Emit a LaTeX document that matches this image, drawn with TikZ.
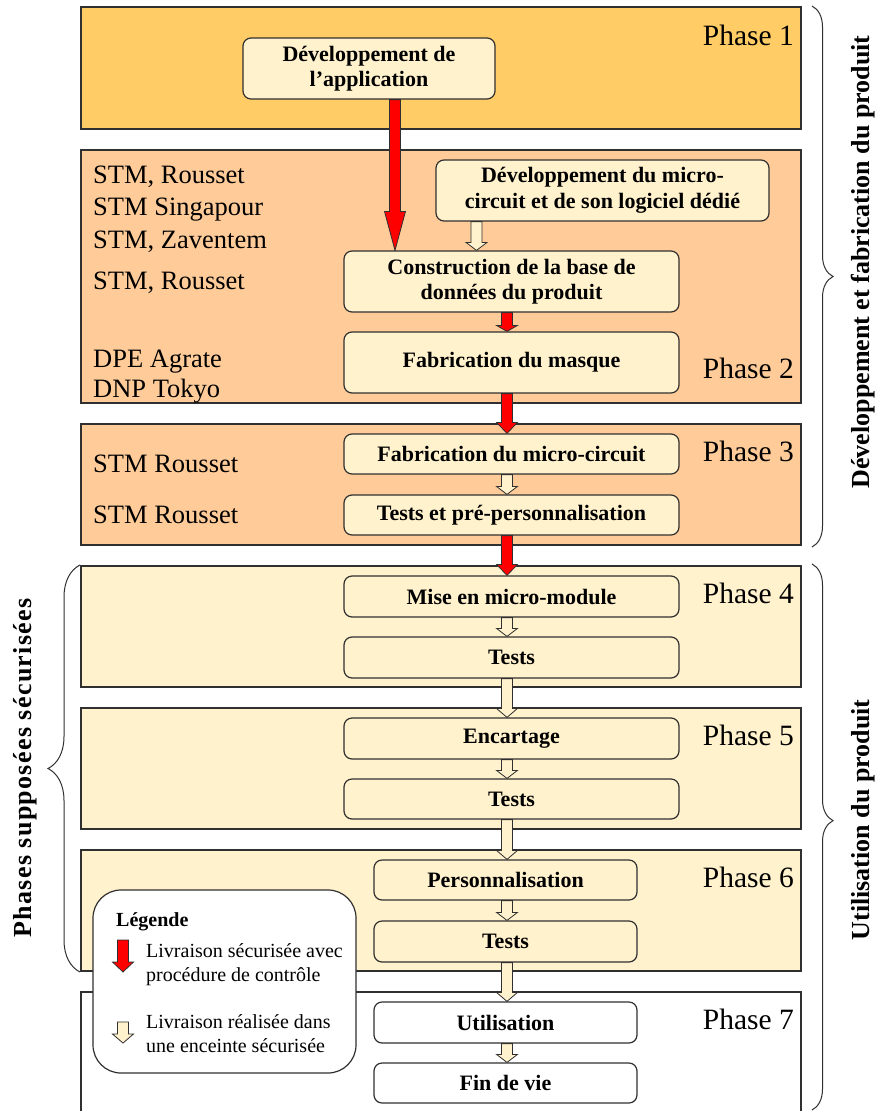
\documentclass[tikz,border=0pt]{standalone}
\usepackage{fontspec}
\setmainfont{Liberation Serif}
\usetikzlibrary{calc,decorations.pathreplacing}
\definecolor{phaseA}{HTML}{FFCC66}
\definecolor{phaseB}{HTML}{FFCC99}
\definecolor{phaseC}{HTML}{FFF2CC}
\definecolor{boxfill}{HTML}{FFF2CC}
\definecolor{edge}{HTML}{303030}
\newcommand\fsz[2]{\fontsize{#1}{#2}\selectfont}
\newcommand\blockarrow[4]{%
  \draw[#1] let \p1=(#2), \p2=(#3) in
    (\x1-5.5pt,\y1) -- (\x1-5.5pt,\y2+#4) -- (\x1-10.5pt,\y2+#4) -- (\x1,\y2)
    -- (\x1+10.5pt,\y2+#4) -- (\x1+5.5pt,\y2+#4) -- (\x1+5.5pt,\y1) -- cycle;}
\begin{document}
\begin{tikzpicture}[x=1pt,y=-1pt,
  phase/.style={draw=edge,line width=1.3pt},
  stepbox/.style={draw=edge,line width=1.2pt,rounded corners=8pt,fill=boxfill,align=center,inner sep=0pt,font=\bfseries\fsz{22}{25.5},text=black},
  site/.style={anchor=base west,inner sep=0pt,font=\fsz{26.5}{30}},
  phlabel/.style={anchor=base east,inner sep=0pt,font=\fsz{29.5}{32}},
  redarrow/.style={fill=red,draw=edge,line width=0.8pt},
  paleArrow/.style={fill=boxfill,draw=edge,line width=0.8pt},
  legtext/.style={anchor=base west,inner sep=0pt,font=\fsz{20}{24}},
  sidetext/.style={rotate=90,font=\bfseries\fsz{26}{30},inner sep=0pt},
  bracedraw/.style={draw=edge,line width=1pt,decorate}
]
\useasboundingbox (0,0) rectangle (878,1111);
\fill[white] (0,0) rectangle (878,1111);

% phases
\draw[phase,fill=phaseA] (81,7) rectangle (801,129);
\draw[phase,fill=phaseB] (81,150) rectangle (801,403);
\draw[phase,fill=phaseB] (81,424) rectangle (801,545);
\draw[phase,fill=phaseC] (81,566) rectangle (801,687);
\draw[phase,fill=phaseC] (81,708) rectangle (801,829);
\draw[phase,fill=phaseC] (81,850) rectangle (801,971);
\fill[white] (81,992) rectangle (801,1115);
\draw[phase] (81,1115) -- (81,992) -- (801,992) -- (801,1115);

% phase labels
\node[phlabel] (ph1) at (794,45) {Phase 1};
\node[phlabel] (ph2) at (794,378) {Phase 2};
\node[phlabel] (ph3) at (794,461) {Phase 3};
\node[phlabel] (ph4) at (794,603) {Phase 4};
\node[phlabel] (ph5) at (794,745) {Phase 5};
\node[phlabel] (ph6) at (794,887) {Phase 6};
\node[phlabel] (ph7) at (794,1029) {Phase 7};

% site labels
\node[site] (s1) at (93,183) {STM, Rousset};
\node[site] (s2) at (93,215) {STM Singapour};
\node[site] (s3) at (93,248) {STM, Zaventem};
\node[site] (s4) at (93,289) {STM, Rousset};
\node[site] (s5) at (93,367) {DPE Agrate};
\node[site] (s6) at (93,397) {DNP Tokyo};
\node[site] (s7) at (93,472) {STM Rousset};
\node[site] (s8) at (93,523) {STM Rousset};

% steps
\node[stepbox,minimum width=252pt,minimum height=61pt] (devapp) at (369,68.5) {Développement de\\l’application};
\node[stepbox,minimum width=333pt,minimum height=61pt] (devmc) at (602.5,190.5) {Développement du micro-\\circuit et de son logiciel dédié};
\node[stepbox,minimum width=335pt,minimum height=61pt] (constr) at (511.5,281.5) {Construction de la base de\\données du produit};
\node[stepbox,minimum width=335pt,minimum height=61pt] (masque) at (511.5,362.5) {Fabrication du masque};
\node[stepbox,minimum width=335pt,minimum height=40pt] (fabmc) at (511.5,454) {Fabrication du micro-circuit};
\node[stepbox,minimum width=335pt,minimum height=40pt] (testspre) at (511.5,515) {Tests et pré-personnalisation};
\node[stepbox,minimum width=335pt,minimum height=41pt] (mise) at (511.5,596.5) {Mise en micro-module};
\node[stepbox,minimum width=335pt,minimum height=41pt] (tests4) at (511.5,657.5) {Tests};
\node[stepbox,minimum width=335pt,minimum height=41pt] (encart) at (511.5,738.5) {Encartage};
\node[stepbox,minimum width=335pt,minimum height=40pt] (tests5) at (511.5,799) {Tests};
\node[stepbox,minimum width=263pt,minimum height=40pt] (perso) at (505.5,880) {Personnalisation};
\node[stepbox,minimum width=263pt,minimum height=41pt] (tests6) at (505.5,941.5) {Tests};
\node[stepbox,fill=white,minimum width=263pt,minimum height=41pt] (util) at (505.5,1022.5) {Utilisation};
\node[stepbox,fill=white,minimum width=263pt,minimum height=40pt] (fin) at (505.5,1083) {Fin de vie};

% arrows
\coordinate (ax) at (507,0);
\coordinate (bx) at (395,0);
\coordinate (cx) at (476.5,0);
\blockarrow{redarrow}{devapp.south -| bx}{constr.north -| bx}{39pt}
\blockarrow{paleArrow}{devmc.south -| cx}{constr.north -| cx}{8pt}
\blockarrow{redarrow}{constr.south -| ax}{masque.north -| ax}{6pt}
\blockarrow{redarrow}{masque.south -| ax}{fabmc.north -| ax}{11pt}
\blockarrow{paleArrow}{fabmc.south -| ax}{testspre.north -| ax}{8pt}
\blockarrow{redarrow}{testspre.south -| ax}{mise.north -| ax}{11pt}
\blockarrow{paleArrow}{mise.south -| ax}{tests4.north -| ax}{8pt}
\blockarrow{paleArrow}{tests4.south -| ax}{encart.north -| ax}{9pt}
\blockarrow{paleArrow}{encart.south -| ax}{tests5.north -| ax}{8pt}
\blockarrow{paleArrow}{tests5.south -| ax}{perso.north -| ax}{9pt}
\blockarrow{paleArrow}{perso.south -| ax}{tests6.north -| ax}{8pt}
\blockarrow{paleArrow}{tests6.south -| ax}{util.north -| ax}{9pt}
\blockarrow{paleArrow}{util.south -| ax}{fin.north -| ax}{8pt}

% legend
\node[draw=edge,line width=1.2pt,fill=white,rounded corners=28pt,minimum width=263pt,minimum height=183pt,inner sep=0pt] (legend) at (224.5,981.5) {};
\node[anchor=base west,inner sep=0pt,font=\bfseries\fsz{20}{24}] (legtitle) at (116,926) {Légende};
\coordinate (lr1) at (123,940);
\coordinate (lr2) at (123,972);
\blockarrow{redarrow}{lr1}{lr2}{10pt}
\coordinate (lp1) at (123,1022);
\coordinate (lp2) at (123,1043);
\blockarrow{paleArrow}{lp1}{lp2}{9pt}
\node[legtext] (l1) at (146,957) {Livraison sécurisée avec};
\node[legtext] (l2) at (146,981) {procédure de contrôle};
\node[legtext] (l3) at (146,1028) {Livraison réalisée dans};
\node[legtext] (l4) at (146,1052) {une enceinte sécurisée};

% braces
\coordinate (b1t) at (812,6);
\coordinate (b1b) at (812,547);
\coordinate (b2t) at (812,564);
\coordinate (b2b) at (812,1110);
\coordinate (b3b) at (80,972);
\coordinate (b3t) at (80,565);
\draw[bracedraw,decoration={brace,amplitude=21pt,aspect=0.5}] (b1t) -- (b1b);
\draw[bracedraw,decoration={brace,amplitude=21pt,aspect=0.47}] (b2t) -- (b2b);
\draw[bracedraw,decoration={brace,amplitude=32pt,aspect=0.5}] (b3b) -- (b3t);

\node[sidetext] (sideA) at (863,262) {Développement et fabrication du produit};
\node[sidetext] (sideB) at (863,820) {Utilisation du produit};
\node[sidetext,font=\bfseries\fsz{26}{30}\addfontfeatures{LetterSpace=5}] (sideC) at (25,768) {Phases supposées sécurisées};
\end{tikzpicture}
\end{document}
